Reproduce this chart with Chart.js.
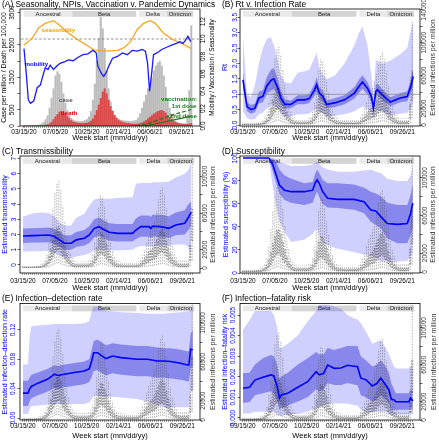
<!DOCTYPE html>
<html><head><meta charset="utf-8">
<script src="https://cdn.jsdelivr.net/npm/chart.js@4.4.1/dist/chart.umd.min.js"></script>
<style>html,body{margin:0;padding:0;background:#fff;width:439px;height:440px;overflow:hidden}canvas{position:absolute}</style>
</head><body>
<canvas id="cA" width="219" height="146" style="left:0;top:0"></canvas>
<canvas id="cB" width="219" height="146" style="left:220px;top:0"></canvas>
<canvas id="cC" width="219" height="146" style="left:0;top:146px"></canvas>
<canvas id="cD" width="219" height="146" style="left:220px;top:146px"></canvas>
<canvas id="cE" width="219" height="148" style="left:0;top:292px"></canvas>
<canvas id="cF" width="219" height="148" style="left:220px;top:292px"></canvas>
<script>
const FONT = "'Liberation Sans', Arial, Helvetica, sans-serif";
Chart.defaults.font.family = FONT;
Chart.defaults.color = '#000';

// ---------------- data ----------------
const dateLabels = ['03/15/20','07/05/20','10/25/20','02/14/21','06/06/21','09/26/21'];
const weeks = [0,1,2,3,4,5,6,7,8,9,10,11,12,13,14,15,16,17,18,19,20,21,22,23,24,25,26,27,28,29,30,31,32,33,34,35,36,37,38,39,40,41,42,43,44,45,46,47,48,49,50,51,52,53,54,55,56,57,58,59,60,61,62,63,64,65,66,67,68,69,70,71,72,73,74,75,76,77,78,79,80,81,82,83,84,85];

const variantNames = ['Ancestral','Beta','Delta','Omicron'];
const variantStart = [0, 24.5, 58.5, 72.5];
const variantEnd = [24.5, 57, 72.5, 86];

// Panel A
const cases = [5,5,8,10,15,15,20,25,40,70,
 120,200,320,550,850,1150,1550,1680,1600,1350,
 1000,700,480,330,240,190,160,150,140,140,
 150,170,200,280,450,800,1300,2000,2700,3350,
 3000,2400,1700,1150,750,480,330,250,200,180,
 170,160,150,150,140,150,160,180,250,380,
 550,750,950,1150,1300,1500,1700,1850,1950,2000,
 1850,1550,1200,850,550,350,230,150,110,90,
 80,70,70,250,1100,3100];
const deaths = [0,0,0,0,1,2,3,5,8,12,
 20,30,45,70,120,200,280,350,430,460,
 440,380,300,230,170,130,110,95,85,80,
 80,85,90,110,150,220,330,480,650,850,
 1050,1150,1000,800,600,450,330,250,190,150,
 120,100,90,80,70,65,60,60,65,80,
 100,130,170,220,270,320,370,410,450,470,
 480,450,400,330,260,200,150,110,90,70,
 60,55,50,50,60,80];
const seasW = [0,4.2,7.5,10.8,15,17.5,22.5,27.5,32.5,35.8,40.8,47.5,50.8,54.2,57.5,60.8,64.2,66.7,70.8,75.8,80.8,85];
const seasV = [0.93,1.01,1.13,1.18,1.21,1.17,1.07,0.99,0.92,0.87,0.86,0.87,0.90,0.97,1.11,1.18,1.21,1.18,1.07,0.99,0.94,0.89];
const mobW = [0,1.2,2.2,3.3,5,6.7,8.3,9.5,10.8,12.2,13.3,15,16.7,18.3,20.8,22.5,25,27.5,30,32.5,35,36.7,37.5,39.2,40.5,41.7,43.3,45,47.5,50,52.5,55,57.5,60,61.7,62.8,63.8,64.8,65.8,67.5,70,72.5,75,77.5,79.2,80.8,82.2,83.3,84.7];
const mobV = [0.89,0.59,0.30,0.26,0.29,0.44,0.47,0.57,0.67,0.65,0.70,0.65,0.69,0.72,0.74,0.76,0.75,0.79,0.82,0.83,0.87,0.84,0.69,0.61,0.57,0.61,0.70,0.78,0.80,0.84,0.82,0.87,0.86,0.88,0.86,0.72,0.40,0.59,0.82,0.84,0.88,0.905,0.93,0.95,0.97,0.95,0.99,1.03,0.97];
const vac1W = [54,58,62,66,70,74,78,82,85];
const vac1V = [0,0.005,0.02,0.05,0.085,0.115,0.145,0.17,0.19];
const vac2W = [56,62,66,70,74,78,82,85];
const vac2V = [0,0.005,0.02,0.04,0.06,0.08,0.10,0.11];

// Estimated infections per million (thousands), weekly boxplot stats
const infHi = [2,2,2,2,2,2,2.5,3,3.5,4,
 6,9,15,28,45,65,82,92,95,85,
 68,50,35,24,16,11,8,7,7,7,
 7,7,7,8,10,16,28,46,66,80,
 78,68,54,40,28,19,13,9,7.5,7,
 6.5,6,6,6,6,6,6,6.5,7,10,
 14,20,28,35,40,45,52,62,75,85,
 88,80,65,48,34,24,17,12,9,8,
 8,8,8,9,60,125];
const infQ3 = [1,1,1,1,1,1,1.2,1.5,1.8,2,
 3,4.5,7,13,21,30,38,44,45,40,
 32,24,16,11,7.5,5,4,3.5,3.5,3.5,
 3.5,3.5,3.5,4,5,7.5,13,22,32,38,
 37,32,26,19,13,9,6,4.5,3.8,3.5,
 3.2,3,3,3,3,3,3,3.2,3.5,5,
 7,10,13,17,19,21,25,30,35,40,
 42,38,30,22,16,11,8,6,4.5,4,
 4,4,4,4.5,25,65];
const infQ1 = [0.4,0.4,0.4,0.4,0.4,0.4,0.5,0.6,0.7,0.8,
 1.2,1.8,3,5,8,12,16,19,20,17,
 13,10,7,5,3,2,1.6,1.4,1.4,1.4,
 1.4,1.4,1.4,1.6,2,3,5.5,9,13,16,
 15,13,10,7.5,5,3.5,2.5,1.8,1.5,1.4,
 1.3,1.2,1.2,1.2,1.2,1.2,1.2,1.3,1.4,2,
 3,4,5.5,7,8,9,10,12,15,17,
 18,16,13,9,6.5,4.5,3,2.5,2,1.6,
 1.6,1.6,1.6,1.8,8,30];
const infLo = [0.1,0.1,0.1,0.1,0.1,0.1,0.1,0.1,0.1,0.1,
 0.2,0.4,0.7,1,2,3,4,5,5,4,
 3,2.5,1.8,1.3,1,0.7,0.5,0.4,0.4,0.4,
 0.4,0.4,0.4,0.5,0.6,0.9,1.4,2.2,3.2,4,
 4,3.4,2.6,2,1.5,1.1,0.8,0.6,0.5,0.4,
 0.3,0.3,0.3,0.3,0.3,0.3,0.3,0.3,0.4,0.5,
 0.7,1,1.4,1.7,2,2.2,2.5,3,3.5,4,
 4.5,4,3.2,2.4,1.7,1.2,0.9,0.7,0.5,0.5,
 0.5,0.5,0.5,0.5,2,8];

// Panel B: Rt
const bW = [0,2,4,6,8,10,12,14,15.5,17.5,19,21,24,27.5,31,33.3,36,37,38.3,40,42,46,51,56,58.3,60,62.5,64.5,65.5,66.7,67.5,70,74,79,82.5,84,85.5];
const bMed = [1.47,0.60,0.50,0.55,0.88,0.93,1.27,1.45,1.50,1.20,0.88,0.68,0.67,0.82,0.82,0.86,1.15,1.31,1.04,0.94,0.67,0.72,0.82,1.04,1.26,1.40,1.20,0.93,0.55,1.09,1.15,0.98,0.75,0.88,0.93,1.20,1.58];
const bHi50 = [1.72,0.75,0.65,0.70,1.08,1.13,1.57,1.80,1.85,1.50,1.10,0.83,0.80,0.97,0.97,1.01,1.35,1.56,1.24,1.12,0.80,0.87,0.97,1.24,1.48,1.62,1.40,1.11,0.65,1.29,1.35,1.16,0.90,1.03,1.10,1.40,1.88];
const bLo50 = [1.22,0.45,0.37,0.42,0.70,0.75,1.00,1.12,1.17,0.93,0.68,0.54,0.55,0.68,0.68,0.72,0.96,1.08,0.86,0.78,0.55,0.58,0.68,0.86,1.05,1.18,1.00,0.76,0.45,0.90,0.96,0.81,0.61,0.74,0.77,1.00,1.30];
const bHi95 = [2.90,1.00,0.90,1.30,2.00,2.50,2.80,2.85,2.60,2.10,1.60,1.40,1.35,1.70,1.75,1.80,2.20,2.35,1.90,1.65,1.50,1.60,2.00,2.60,3.00,3.20,2.60,1.60,0.95,2.10,2.10,2.00,2.10,2.30,2.50,3.00,3.40];
const bLo95 = [0.45,0.22,0.18,0.20,0.35,0.40,0.55,0.65,0.68,0.52,0.38,0.28,0.28,0.35,0.35,0.38,0.50,0.58,0.45,0.40,0.28,0.30,0.35,0.45,0.55,0.60,0.52,0.40,0.22,0.45,0.50,0.42,0.32,0.37,0.40,0.52,0.70];

// Panel C: transmissibility
const cW = [0,5,10,13,15.8,18.3,20.8,24.2,26.7,30.8,33.3,35.8,38.3,40,43.3,47.5,55,56.7,59.2,63.3,64.2,65,69.2,73.3,76.7,81.2,82.8,84.5];
const cMed = [1.91,1.93,1.95,1.97,1.87,1.65,1.43,1.43,1.65,1.76,1.97,2.41,2.52,2.37,2.15,2.08,2.08,2.30,2.52,2.52,2.40,2.55,2.52,2.41,2.63,2.74,3.07,3.47];
const cHi50 = [2.40,2.42,2.45,2.47,2.38,2.15,1.95,1.95,2.17,2.30,2.55,3.00,3.12,2.98,2.75,2.70,2.70,3.05,3.25,3.25,3.15,3.30,3.30,3.20,3.45,3.60,3.95,4.20];
const cLo50 = [1.45,1.47,1.48,1.50,1.40,1.20,1.00,1.00,1.18,1.28,1.45,1.80,1.92,1.80,1.60,1.55,1.55,1.70,1.85,1.85,1.78,1.88,1.85,1.78,1.95,2.00,2.25,2.60];
const cHi95 = [3.18,3.40,3.45,3.40,3.20,2.80,2.60,2.60,3.10,3.35,3.90,4.30,4.40,4.35,4.35,4.40,4.45,5.35,5.40,5.40,5.40,5.45,5.45,5.50,5.75,6.00,6.20,6.70];
const cLo95 = [0.88,0.90,0.90,0.92,0.80,0.62,0.48,0.46,0.55,0.65,0.75,0.95,1.05,1.00,0.95,0.95,1.00,1.15,1.25,1.25,1.20,1.25,1.30,1.25,1.35,1.35,1.20,0.80];

// Panel D: susceptibility (%)
const dW = [0,13,15,16.7,18.3,20.8,24.2,30.8,35,36.2,37.2,38.3,40,42.5,47.5,55.8,60.8,64.2,66.7,69.2,72.5,77.5,82.5,84.2,85.3];
const dMed = [100,100,94,85,76.5,72,70.7,70.7,72,78,81,78,70.7,65,64,64,62,54.8,54,49,43,42.3,43,52,60.6];
const dHi50 = [100,100,98.5,96,90,85,82,78,79,86,90,87,81,78,78,77,74,70.7,69,66.7,61,59,59,68,77];
const dLo50 = [100,100,88,78,69,63.5,61,59,61,67,70.7,66,60,57,56.5,55,52,44.6,42,38.9,30,25.8,25.8,33,40];
const dHi95 = [100,100,100,99,97,95,93,93,94,96,97,95,92,90,88,88,89,90,88,87,82,80,80,85,93];
const dLo95 = [100,98,75,58,45,36,27,29,34,37,39,33,27,24,21,18,16,15,13,10,9.8,10,10.5,15,18.5];

// Panel E: infection-detection rate
const eW = [0,2.5,3.3,4.2,7.5,12.5,15.8,17.5,20.8,25.8,30.8,33.3,34.5,35.5,37.5,39.2,41.7,45,49.2,57.5,62.5,67.5,70.8,74.2,79.2,82.5,83.3,84.2,85.3];
const eMed = [0.0339,0.0339,0.0393,0.043,0.0475,0.053,0.0597,0.058,0.0597,0.062,0.064,0.067,0.0777,0.089,0.089,0.0854,0.081,0.0845,0.0823,0.080,0.080,0.0777,0.0777,0.077,0.0746,0.0723,0.0723,0.0936,0.093];
const eHi50 = [0.0506,0.0506,0.055,0.059,0.062,0.067,0.072,0.071,0.073,0.075,0.077,0.080,0.093,0.105,0.107,0.104,0.099,0.102,0.100,0.098,0.098,0.096,0.095,0.095,0.093,0.091,0.091,0.115,0.120];
const eLo50 = [0.0165,0.0165,0.023,0.027,0.031,0.036,0.041,0.040,0.042,0.044,0.046,0.049,0.056,0.064,0.065,0.062,0.058,0.061,0.059,0.057,0.057,0.055,0.055,0.054,0.052,0.050,0.050,0.068,0.071];
const eHi95 = [0.073,0.073,0.110,0.125,0.126,0.127,0.128,0.128,0.128,0.128,0.129,0.132,0.145,0.152,0.152,0.150,0.146,0.145,0.144,0.143,0.142,0.142,0.142,0.143,0.144,0.145,0.145,0.148,0.148];
const eLo95 = [0.0054,0.0054,0.012,0.016,0.017,0.018,0.019,0.019,0.019,0.019,0.019,0.021,0.026,0.030,0.030,0.030,0.029,0.029,0.028,0.026,0.022,0.018,0.015,0.0145,0.0145,0.0145,0.0145,0.037,0.039];

// Panel F: infection-fatality risk
const fW = [0,3.3,6,10,14,15.5,17.2,18.3,19.2,22.5,27.5,32.5,36.7,38.3,40.5,42.5,45.8,49.2,52.5,56.7,57.5,59.2,61.7,65,67.2,69.2,71.7,73.3,74.5,75.8,76.7,83.3,84.2,85.3];
const fMed = [0.00144,0.00149,0.00184,0.00198,0.00209,0.00204,0.00152,0.00096,0.00112,0.0012,0.00149,0.00176,0.00225,0.00209,0.00217,0.00257,0.00241,0.00243,0.00256,0.0025,0.0025,0.00193,0.00186,0.00155,0.00167,0.00193,0.0016,0.00136,0.00091,0.00089,0.00079,0.00079,0.00096,0.00082];
const fHi50 = [0.00217,0.0022,0.0026,0.0029,0.00306,0.003,0.0026,0.0019,0.002,0.0022,0.0026,0.0029,0.0032,0.0031,0.0031,0.0034,0.0033,0.0034,0.0035,0.0035,0.0035,0.003,0.0028,0.0025,0.0026,0.0028,0.0025,0.0022,0.0017,0.0014,0.0012,0.0012,0.0014,0.0013];
const fLo50 = [0.00073,0.00078,0.0011,0.0012,0.0013,0.0012,0.0008,0.0004,0.0005,0.0006,0.0008,0.001,0.0014,0.0013,0.0014,0.0017,0.0016,0.0016,0.0017,0.0016,0.0016,0.0011,0.001,0.0008,0.0009,0.0011,0.0009,0.0007,0.0004,0.0004,0.0004,0.0004,0.0005,0.0004];
const fHi95 = [0.00427,0.00476,0.0052,0.0052,0.0052,0.005,0.0044,0.0034,0.0034,0.0036,0.004,0.0047,0.0052,0.0055,0.0055,0.0055,0.0054,0.0053,0.005,0.0048,0.0048,0.0046,0.0042,0.0036,0.0037,0.0038,0.0034,0.0031,0.0028,0.0025,0.0024,0.0024,0.0025,0.0024];
const fLo95 = [0.00022,0.00022,0.0003,0.0003,0.0003,0.0003,0.00015,0.0001,0.0001,0.00015,0.0002,0.0003,0.0005,0.0005,0.0006,0.0007,0.0007,0.0007,0.0007,0.0006,0.0006,0.0004,0.0003,0.0003,0.0003,0.0003,0.0003,0.0002,0.00015,0.00015,0.00015,0.00015,0.0002,0.00015];

// tick values
const aLeftTicks = [0,500,1000,1500,2000,2500,3000,3500];
const aRightTicks = [0,0.2,0.4,0.6,0.8,1.0,1.2];
const bLeftTicks = [0,0.5,1.0,1.5,2.0,2.5,3.0,3.5];
const bRightTicks = [0,20000,40000,60000,80000,100000,120000,140000];
const infTicks = [0,20000,40000,60000,80000,100000];
const cLeftTicks = [0,1,2,3,4,5,6,7];
const dLeftTicks = [0,20,40,60,80,100];
const eLeftTicks = [0,0.04,0.08,0.12];
const fLeftTicks = [0,0.001,0.002,0.003,0.004,0.005];

// ---------------- layout ----------------
const rows = [
  {H:146, top:9,    bottom:126, titleC:4.5, xlabC:132.7, xtitleC:138.3},
  {H:146, top:10,   bottom:127, titleC:5.5, xlabC:135,   xtitleC:142},
  {H:148, top:11.5, bottom:128, titleC:6.3, xlabC:134.3, xtitleC:143.7}
];
const aNotes = [
  {t:'seasonality', x:17.5, y:1.095, c:'#f5a000'},
  {t:'mobility', x:6.3, y:0.705, c:'#0000ff'},
  {t:'case', x:21.2, y:0.30, c:'#555555'},
  {t:'death', x:22.9, y:0.15, c:'#e00000'},
  {t:'vaccination:', x:78.8, y:0.31, c:'#1b7a1b'},
  {t:'1st dose', x:81.3, y:0.226, c:'#1b7a1b'},
  {t:'2nd dose', x:81.0, y:0.11, c:'#1b7a1b'}
];

const rsk = {
  id: 'rsk',
  beforeDatasetsDraw(chart) {
    const {ctx, chartArea: ca, scales: {x}} = chart;
    ctx.save();
    const y0 = ca.top + 2, h = 5.8;
    variantNames.forEach((n, i) => {
      const x1 = x.getPixelForValue(variantStart[i]), x2 = x.getPixelForValue(variantEnd[i]);
      ctx.fillStyle = i % 2 ? '#d4d4d4' : '#e9e9e9';
      ctx.fillRect(x1, y0, x2 - x1, h);
      ctx.fillStyle = '#222';
      ctx.font = '6px ' + FONT; ctx.textAlign = 'center'; ctx.textBaseline = 'middle';
      ctx.fillText(n, (x1 + x2) / 2, y0 + h / 2 + 0.3);
    });
    ctx.restore();
  },
  afterDraw(chart, args, o) {
    const {ctx, chartArea: ca} = chart;
    ctx.save();
    ctx.strokeStyle = '#000'; ctx.lineWidth = 0.8;
    ctx.strokeRect(ca.left, ca.top, ca.right - ca.left, ca.bottom - ca.top);
    const drawAxis = (scale, dec, labX, titX, color, tSize) => {
      ctx.fillStyle = color; ctx.textAlign = 'center'; ctx.textBaseline = 'middle';
      ctx.font = '6.5px ' + FONT;
      let lastEdge = null;   // R-style: skip labels that would overlap the previous one
      scale.ticks.forEach(t => {
        const py = scale.getPixelForValue(t.value);
        const txt = t.value.toFixed(dec);
        const half = ctx.measureText(txt).width / 2;
        if (lastEdge !== null && py + half + 4 > lastEdge) return;
        lastEdge = py - half;
        ctx.save(); ctx.translate(labX, py); ctx.rotate(-Math.PI / 2);
        ctx.fillText(txt, 0, 0); ctx.restore();
      });
      ctx.font = tSize + 'px ' + FONT;
      ctx.save(); ctx.translate(titX, (ca.top + ca.bottom) / 2); ctx.rotate(-Math.PI / 2);
      ctx.fillText(scale.options.title.text, 0, 0); ctx.restore();
    };
    drawAxis(chart.scales.y, o.ld, o.lx ?? 14, o.ltx ?? 5, o.lc, o.lts ?? 7);
    drawAxis(chart.scales.y2, o.rd, o.rx ?? 205, o.rtx ?? 213.5, o.rc, o.rts ?? 7);
    if (o.notes) {
      const xs = chart.scales.x, ys = chart.scales.y2;
      ctx.font = 'bold 6.2px ' + FONT; ctx.textAlign = 'center'; ctx.textBaseline = 'middle';
      o.notes.forEach(n => { ctx.fillStyle = n.c; ctx.fillText(n.t, xs.getPixelForValue(n.x), ys.getPixelForValue(n.y)); });
    }
    ctx.restore();
  }
};

function axisOpts(a, pos) {
  return {type:'linear', position:pos, min:a.min, max:a.max, bounds:'data',
    afterBuildTicks: s => { s.ticks = a.ticks.map(v => ({value:v})); },
    afterFit: s => { s.width = pos === 'left' ? 18 : 19; },
    ticks:{display:false},
    grid:{drawOnChartArea:false, drawTicks:true, tickLength:2.5, color:'#000', lineWidth:0.6},
    border:{display:false},
    title:{display:false, text:a.title}};
}

function panel(id, row, title, datasets, ya, y2a, rskOpts) {
  const g = rows[row];
  return new Chart(document.getElementById(id), {
    type:'line',
    data:{datasets},
    options:{
      responsive:false, animation:false, devicePixelRatio:1,
      layout:{padding:{left:2, right:0, top:0, bottom:0}},
      elements:{point:{radius:0}, line:{tension:0}},
      plugins:{
        legend:{display:false}, tooltip:{enabled:false},
        title:{display:true, text:title, align:'start', color:'#000',
          font:{size:8.4, weight:'normal', lineHeight:1},
          padding:{top:g.titleC - 4.2, bottom:g.top - g.titleC - 4.2}},
        rsk:rskOpts
      },
      scales:{
        x:{type:'linear', min:-1.5, max:88.9, bounds:'data',
          afterBuildTicks: s => { s.ticks = weeks.map(v => ({value:v})); },
          afterFit: s => { s.height = g.H - g.bottom; },
          ticks:{autoSkip:false, maxRotation:0, minRotation:0, padding:g.xlabC - g.bottom - 5.9,
            font:{size:6.5}, color:'#000',
            callback: v => (v % 16 === 0 ? dateLabels[v / 16] : '')},
          grid:{drawOnChartArea:false, drawTicks:true, tickLength:2, color:'#444', lineWidth:0.5},
          border:{display:false},
          title:{display:true, text:'Week start (mm/dd/yy)', color:'#000',
            font:{size:7.5, lineHeight:1}, padding:{top:0, bottom:g.H - g.xtitleC - 3.75}}},
        y:axisOpts(ya, 'left'),
        y2:axisOpts(y2a, 'right')
      }
    },
    plugins:[rsk]
  });
}

const pts = (w, v) => v.map((y, i) => ({x:w[i], y}));
const K = 1000;
const whiskData = weeks.flatMap((w, i) => [{x:w, y:infLo[i]*K}, {x:w, y:infHi[i]*K}, {x:w, y:null}]);
const boxData = weeks.flatMap((w, i) => [{x:w-0.3, y:infQ1[i]*K}, {x:w-0.3, y:infQ3[i]*K}, {x:w+0.3, y:infQ3[i]*K}, {x:w+0.3, y:infQ1[i]*K}, {x:w-0.3, y:infQ1[i]*K}, {x:w, y:null}]);
const NONE = 'rgba(0,0,0,0)';

function estSets(w, med, lo50, hi50, lo95, hi95, refLine) {
  const s = [
    {data:pts(w, med), borderColor:'#0000ff', borderWidth:1.6, fill:false, order:0, yAxisID:'y'},
    {data:whiskData, borderColor:'rgba(80,80,80,0.7)', borderWidth:0.6, borderDash:[1.6,1.2], fill:false, spanGaps:false, order:3, yAxisID:'y2'},
    {data:boxData, borderColor:'rgba(50,50,50,0.75)', borderWidth:0.6, borderDash:[1.6,1.2], fill:false, spanGaps:false, order:2, yAxisID:'y2'},
    {data:pts(w, lo95), borderColor:NONE, borderWidth:0, fill:false, order:6, yAxisID:'y'},
    {data:pts(w, hi95), borderColor:NONE, borderWidth:0, fill:'-1', backgroundColor:'rgba(60,60,255,0.24)', order:6, yAxisID:'y'},
    {data:pts(w, lo50), borderColor:NONE, borderWidth:0, fill:false, order:5, yAxisID:'y'},
    {data:pts(w, hi50), borderColor:NONE, borderWidth:0, fill:'-1', backgroundColor:'rgba(0,0,200,0.35)', order:5, yAxisID:'y'}
  ];
  if (refLine) s.push({data:[{x:-1.5, y:1}, {x:88.9, y:1}], borderColor:'#8a8a8a', borderWidth:0.8, fill:false, order:1, yAxisID:'y'});
  return s;
}

// Panel A
panel('cA', 0, '(A) Seasonality, NPIs, Vaccination v. Pandemic Dynamics', [
  {data:pts(mobW, mobV), borderColor:'#1a1aff', borderWidth:1.3, fill:false, order:0, yAxisID:'y2'},
  {data:pts(seasW, seasV), borderColor:'#f5a623', borderWidth:1.3, fill:false, order:0, yAxisID:'y2'},
  {data:pts(vac1W, vac1V), borderColor:'#1b7a1b', borderWidth:1.2, borderDash:[4,2], fill:false, order:0, yAxisID:'y2'},
  {data:pts(vac2W, vac2V), borderColor:'#1b7a1b', borderWidth:1.2, fill:false, order:0, yAxisID:'y2'},
  {data:[{x:-1.5, y:1}, {x:88.9, y:1}], borderColor:'#777', borderWidth:0.8, borderDash:[2.5,2], fill:false, order:1, yAxisID:'y2'},
  {type:'bar', data:pts(weeks, deaths), backgroundColor:'rgba(225,45,45,0.8)', barThickness:1.4, grouped:false, order:2, yAxisID:'y'},
  {type:'bar', data:pts(weeks, cases), backgroundColor:'#bcbcbc', barThickness:1.4, grouped:false, order:3, yAxisID:'y'}
], {min:0, max:3611, ticks:aLeftTicks, title:'Case per million / Death per 100,000'},
   {min:0, max:1.345, ticks:aRightTicks, title:'Mobility / Vaccination / Seasonality'},
   {ld:0, rd:1, lc:'#000', rc:'#000', lx:12.7, ltx:4.5, lts:6.8, rx:203.5, rtx:212.5, rts:6.3, notes:aNotes});

panel('cB', 0, '(B) Rt v. Infection Rate', estSets(bW, bMed, bLo50, bHi50, bLo95, bHi95, true),
  {min:-0.03, max:3.77, ticks:bLeftTicks, title:'Rt'},
  {min:-1200, max:141000, ticks:bRightTicks, title:'Estimated infections per million'},
  {ld:1, rd:0, lc:'#0000ff', rc:'#333', lx:15.5, rx:204.5});

panel('cC', 1, '(C) Transmissibility', estSets(cW, cMed, cLo50, cHi50, cLo95, cHi95, false),
  {min:-0.53, max:7.17, ticks:cLeftTicks, title:'Estimated transmissibility'},
  {min:-5460, max:122400, ticks:infTicks, title:'Estimated infections per million'},
  {ld:0, rd:0, lc:'#0000ff', rc:'#333'});

panel('cD', 1, '(D) Susceptibility', estSets(dW, dMed, dLo50, dHi50, dLo95, dHi95, false),
  {min:0, max:101.7, ticks:dLeftTicks, title:'Estimated susceptibility (%)'},
  {min:-1060, max:123400, ticks:infTicks, title:'Estimated infections per million'},
  {ld:0, rd:0, lc:'#0000ff', rc:'#333', lx:15, ltx:6});

panel('cE', 2, '(E) Infection\u2013detection rate', estSets(eW, eMed, eLo50, eHi50, eLo95, eHi95, false),
  {min:-0.0027, max:0.156, ticks:eLeftTicks, title:'Estimated infection\u2013detection rate'},
  {min:0, max:120100, ticks:infTicks, title:'Estimated infections per million'},
  {ld:2, rd:0, lc:'#0000ff', rc:'#333', lx:13.5, rx:203.5});

panel('cF', 2, '(F) Infection\u2013fatality risk', estSets(fW, fMed, fLo50, fHi50, fLo95, fHi95, false),
  {min:-0.0001, max:0.00556, ticks:fLeftTicks, title:'Estimated infection\u2013fatality risk'},
  {min:0, max:126600, ticks:infTicks, title:'Estimated infections per million'},
  {ld:3, rd:0, lc:'#0000ff', rc:'#333', lx:13.5, rx:204, rtx:214.5});
</script>
</body></html>
